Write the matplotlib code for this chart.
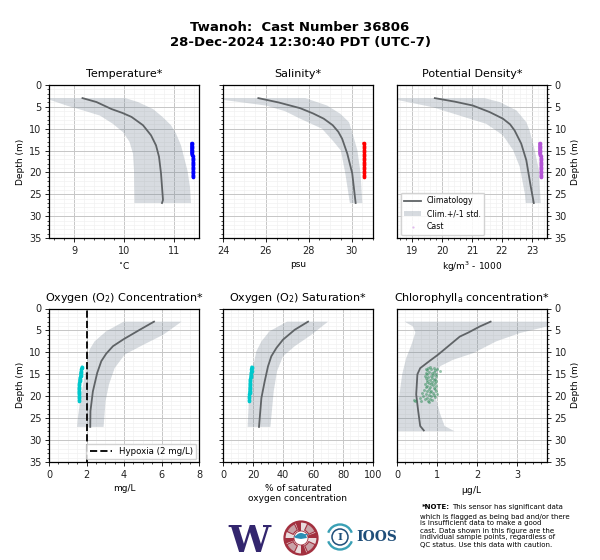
import matplotlib
matplotlib.use("Agg")
import matplotlib.pyplot as plt
from matplotlib.patches import Circle, Wedge, Arc
from matplotlib.ticker import MultipleLocator

CLIM = "#5f6366"
BAND = "#708090"

temp_d = [3, 3.9, 5.5, 6.4, 7.3, 9.2, 11.5, 13.8, 16.4, 20.2, 24.8, 26.3, 27]
temp_m = [9.17, 9.45, 9.75, 9.97, 10.15, 10.38, 10.54, 10.64, 10.7, 10.74, 10.77, 10.78, 10.76]
temp_ld = [3, 3.4, 4.7, 5.8, 7, 8.9, 10.8, 13, 15.7, 19.5, 27]
temp_l = [8.3, 8.52, 8.85, 9.18, 9.52, 9.78, 9.98, 10.11, 10.18, 10.2, 10.21]
temp_hd = [3, 3.9, 5.5, 7.3, 9.2, 11.1, 13.8, 16.5, 19.6, 23.4, 27]
temp_h = [10.03, 10.28, 10.58, 10.77, 10.94, 11.04, 11.14, 11.2, 11.27, 11.32, 11.34]

sal_d = [3, 4, 5.3, 6.5, 7.7, 9.2, 10.7, 12.3, 15.7, 20.2, 27]
sal_m = [25.65, 26.6, 27.6, 28.2, 28.7, 29.12, 29.38, 29.56, 29.8, 30.03, 30.19]
sal_ld = [3, 3.4, 4.7, 6, 7.7, 10, 13, 15, 20, 27]
sal_l = [23.6, 24, 26, 26.9, 27.6, 28.62, 29.17, 29.5, 29.7, 29.92]
sal_hd = [3, 4.7, 6.6, 8.5, 10.8, 14.9, 20.2, 27]
sal_h = [27.84, 28.86, 29.48, 29.88, 30.03, 30.27, 30.42, 30.5]

den_d = [3, 3.8, 4.7, 6.2, 7.7, 9, 10.4, 13.4, 17.2, 23.3, 27]
den_m = [19.76, 20.42, 21.03, 21.59, 22.03, 22.27, 22.42, 22.64, 22.81, 22.96, 23.06]
den_ld = [3, 3.4, 5.1, 7, 8.9, 11.5, 14.9, 18.7, 24.8, 27]
den_l = [18.2, 18.5, 19.7, 20.59, 21.48, 22.03, 22.37, 22.59, 22.76, 22.79]
den_hd = [3, 3.9, 5.8, 8.5, 10.4, 14.9, 19.5, 27]
den_h = [21.42, 21.92, 22.48, 22.81, 22.92, 23.09, 23.23, 23.29]

do_d = [3, 4.85, 7, 8.6, 10.3, 12, 14.7, 18.9, 23.4, 27]
do_m = [5.6, 4.84, 3.98, 3.41, 3.05, 2.79, 2.57, 2.34, 2.21, 2.2]
do_ld = [3, 5.2, 7.5, 9.4, 12, 15.8, 20.4, 24.9, 27]
do_l = [3.98, 3.05, 2.43, 2.16, 2.04, 1.89, 1.68, 1.54, 1.5]
do_hd = [3, 6, 8.3, 10.5, 13.6, 17.3, 21, 27]
do_h = [7.07, 6.09, 5.02, 4.04, 3.5, 3.2, 3.02, 2.91]

sat_d = [3, 4.85, 7.1, 9, 10.9, 13.2, 16.6, 20.4, 27]
sat_m = [56.7, 47.8, 40, 35.6, 32.2, 30, 27.8, 25.6, 24]
sat_ld = [3, 5.2, 7.5, 9.8, 12.8, 16.6, 20.4, 27]
sat_l = [42.7, 31, 25.6, 22.2, 20.4, 18.9, 17.3, 16.4]
sat_hd = [3, 6, 8.6, 10.9, 14.3, 18.9, 27]
sat_h = [70, 58.9, 47.8, 40, 36, 33.8, 31.6]

chl_d = [3, 4.1, 5.5, 6.4, 8.3, 10.5, 12.2, 13.6, 15, 19.6, 23.4, 26.8, 27.8]
chl_m = [2.34, 2.07, 1.78, 1.57, 1.32, 1.03, 0.78, 0.58, 0.51, 0.48, 0.53, 0.58, 0.67]
chl_ld = [3, 4.1, 5.5, 8.3, 11.3, 15, 20.4, 25, 28]
chl_l = [0.19, 0.4, 0.46, 0.36, 0.23, 0.13, 0.05, 0.0, 0.0]
chl_hd = [3, 4.1, 5.6, 7.5, 10.2, 11.7, 13.2, 15, 20.4, 23.8, 26.8, 28]
chl_h = [4.6, 3.75, 3.07, 2.48, 1.9, 1.4, 1.07, 1.0, 0.97, 1.07, 1.19, 1.44]

cast_d = [13.3, 13.6, 13.9, 14.2, 14.5, 14.8, 15.1, 15.4, 15.7, 16.0, 16.3, 16.6, 16.9, 17.2,
          17.5, 17.8, 18.1, 18.4, 18.7, 19.0, 19.3, 19.6, 19.9, 20.2, 20.5, 20.8, 21.1]
cast_t = [11.35, 11.35, 11.35, 11.35, 11.35, 11.35, 11.35, 11.35, 11.35, 11.36, 11.38, 11.38, 11.38, 11.38,
          11.38, 11.38, 11.38, 11.38, 11.38, 11.38, 11.38, 11.38, 11.38, 11.38, 11.38, 11.38, 11.38]
cast_s = [30.56, 30.58, 30.6, 30.6, 30.6, 30.6, 30.6, 30.6, 30.6, 30.6, 30.6, 30.6, 30.6, 30.6,
          30.6, 30.6, 30.6, 30.6, 30.6, 30.6, 30.6, 30.6, 30.6, 30.6, 30.6, 30.6, 30.6]
cast_r = [23.25, 23.25, 23.25, 23.25, 23.25, 23.25, 23.25, 23.25, 23.25, 23.27, 23.3, 23.3, 23.3, 23.3,
          23.3, 23.3, 23.3, 23.3, 23.3, 23.3, 23.3, 23.3, 23.3, 23.3, 23.3, 23.3, 23.3]
cast_o = [1.76, 1.74, 1.72, 1.72, 1.7, 1.68, 1.68, 1.68, 1.66, 1.64, 1.63, 1.63, 1.62, 1.62,
          1.61, 1.61, 1.6, 1.6, 1.6, 1.6, 1.6, 1.61, 1.61, 1.61, 1.61, 1.61, 1.61]
cast_p = [19.1, 19.0, 18.9, 19.0, 18.9, 18.7, 18.6, 18.5, 18.4, 18.2, 18.1, 18.1, 18.0, 18.0,
          18.0, 17.9, 17.9, 17.8, 17.8, 17.7, 17.7, 17.6, 17.6, 17.5, 17.5, 17.5, 17.5]

chl_cast_d = [13.4, 13.5, 13.6, 13.7, 13.8, 13.9, 14.0, 14.1, 14.2, 14.4, 14.5, 14.6, 14.8, 14.9,
              15.0, 15.1, 15.3, 15.4, 15.5, 15.7, 15.8, 15.9, 16.0, 16.2, 16.3, 16.4, 16.5, 16.7,
              16.8, 17.0, 17.1, 17.2, 17.3, 17.5, 17.6, 17.7, 17.9, 18.0, 18.1, 18.3, 18.4, 18.5,
              18.7, 18.8, 18.9, 19.0, 19.2, 19.3, 19.4, 19.5, 19.7, 19.8, 19.9, 20.0, 20.2, 20.3,
              20.4, 20.6, 20.7, 20.8, 20.9, 21.0, 21.1, 21.2, 21.3]
chl_cast_v = [0.82, 0.92, 0.78, 1.0, 0.72, 0.86, 0.95, 0.76, 1.08, 0.8, 0.93, 0.72, 0.87, 0.98,
              0.76, 0.9, 0.7, 0.84, 0.97, 0.78, 0.88, 0.72, 0.95, 0.83, 0.76, 0.92, 0.97, 0.74,
              0.87, 0.8, 0.95, 0.7, 0.86, 0.9, 0.76, 0.98, 0.83, 0.72, 0.92, 0.8, 0.95, 0.68,
              0.86, 0.75, 0.97, 0.82, 0.62, 0.9, 0.72, 1.0, 0.8, 0.92, 0.66, 0.85, 0.94, 0.76,
              0.58, 0.82, 0.7, 0.88, 0.42, 0.6, 0.77, 0.44, 0.8]

titles = ["Temperature*", "Salinity*", "Potential Density*",
          "Oxygen (O$_2$) Concentration*", "Oxygen (O$_2$) Saturation*",
          "Chlorophyll$_a$ concentration*"]
xlabels = ["$^{\\circ}$C", "psu", "kg/m$^3$ - 1000", "mg/L",
           "% of saturated\noxygen concentration", "$\\mu$g/L"]

W, H = 600, 560
plt.rcParams["mathtext.default"] = "regular"
fig = plt.figure(figsize=(6, 5.6), dpi=100)


def make_ax(x0, x1, y0, y1):
    return fig.add_axes([x0 / W, 1 - y1 / H, (x1 - x0) / W, (y1 - y0) / H])


def style(ax, xlim, xmajor, xminor, title, xlabel, left=True, right=False):
    ax.set_xlim(*xlim)
    ax.set_ylim(35, 0)
    ax.xaxis.set_major_locator(MultipleLocator(xmajor))
    ax.xaxis.set_minor_locator(MultipleLocator(xminor))
    ax.yaxis.set_major_locator(MultipleLocator(5))
    ax.yaxis.set_minor_locator(MultipleLocator(1))
    ax.grid(which="major", color="#c6c6c6", lw=0.7)
    ax.grid(which="minor", color="#f2f2f2", lw=0.5)
    ax.set_axisbelow(True)
    ax.tick_params(which="major", labelsize=7, length=3, width=0.7, pad=2.5, colors="#222222")
    ax.tick_params(which="minor", length=1.5, width=0.5)
    ax.set_title(title, fontsize=8, pad=5.5)
    ax.set_xlabel(xlabel, fontsize=6.5, labelpad=3)
    for s in ax.spines.values():
        s.set_linewidth(0.9)
    if right:
        ax.yaxis.tick_right()
        ax.yaxis.set_label_position("right")
    if left or right:
        ax.set_ylabel("Depth (m)", fontsize=6.5, labelpad=2.5)
    else:
        ax.tick_params(axis="y", which="both", labelleft=False)


def profile(ax, d, m, ld, l, hd, h):
    ax.fill(h + l[::-1], hd + ld[::-1], color=BAND, alpha=0.28, lw=0, label="Clim.+/-1 std.")
    ax.plot(m, d, color=CLIM, lw=1.3, label="Climatology", solid_joinstyle="round")


def cast(ax, x, d, color):
    ax.plot(x, d, ls="none", marker="o", ms=2.6, mew=0, color=color, zorder=3, snap=False)
    ax.plot(x, d, color=color, lw=1.9, zorder=3, solid_capstyle="round", snap=False)


rows = [(85, 238), (308.5, 462)]
cols = [(49, 199), (223, 373), (397, 547)]

ax1 = make_ax(*cols[0], *rows[0])
profile(ax1, temp_d, temp_m, temp_ld, temp_l, temp_hd, temp_h)
cast(ax1, cast_t, cast_d, "#0000ff")
style(ax1, (8.5, 11.5), 1, 0.2, titles[0], xlabels[0])

ax2 = make_ax(*cols[1], *rows[0])
profile(ax2, sal_d, sal_m, sal_ld, sal_l, sal_hd, sal_h)
cast(ax2, cast_s, cast_d, "#ff0000")
style(ax2, (24, 31), 2, 0.5, titles[1], xlabels[1], left=False)

ax3 = make_ax(*cols[2], *rows[0])
profile(ax3, den_d, den_m, den_ld, den_l, den_hd, den_h)
cast(ax3, cast_r, cast_d, "#b455d6")
cast_handle = ax3.scatter([], [], s=5, color="#b455d6", alpha=0.4, lw=0, label="Cast")
style(ax3, (18.5, 23.5), 1, 0.2, titles[2], xlabels[2], left=False, right=True)
h, l = ax3.get_legend_handles_labels()
order = [l.index("Climatology"), l.index("Clim.+/-1 std."), l.index("Cast")]
leg = ax3.legend([h[i] for i in order], [l[i] for i in order], fontsize=5.6,
                 loc="lower left", borderaxespad=0.45, labelspacing=0.5,
                 markerscale=0.7, fancybox=True, framealpha=0.85, handlelength=2.2,
                 handletextpad=0.7, borderpad=0.45)

ax4 = make_ax(*cols[0], *rows[1])
profile(ax4, do_d, do_m, do_ld, do_l, do_hd, do_h)
cast(ax4, cast_o, cast_d, "#00c8cc")
hyp = ax4.axvline(2, color="#111111", ls="--", lw=1.4, zorder=4, label="Hypoxia (2 mg/L)")
style(ax4, (0, 8), 2, 0.5, titles[3], xlabels[3])
ax4.legend(handles=[hyp], fontsize=6.2, loc="lower right", borderaxespad=0.3,
           framealpha=0.85, handlelength=2.6)

ax5 = make_ax(*cols[1], *rows[1])
profile(ax5, sat_d, sat_m, sat_ld, sat_l, sat_hd, sat_h)
cast(ax5, cast_p, cast_d, "#00c8cc")
style(ax5, (0, 100), 20, 5, titles[4], xlabels[4], left=False)

ax6 = make_ax(*cols[2], *rows[1])
profile(ax6, chl_d, chl_m, chl_ld, chl_l, chl_hd, chl_h)
ax6.scatter(chl_cast_v, chl_cast_d, s=4.5, color="#2e8b57", alpha=0.5, lw=0, zorder=3)
style(ax6, (0, 3.75), 1, 0.2, titles[5], xlabels[5], left=False, right=True)

fig.text(0.5, 1 - 35 / H, "Twanoh:  Cast Number 36806\n28-Dec-2024 12:30:40 PDT (UTC-7)",
         ha="center", va="center", fontsize=9.5, fontweight="bold", linespacing=1.2)

# logos
la = fig.add_axes([0, 0, 1, 1], facecolor="none")
la.set_xlim(0, W)
la.set_ylim(H, 0)
la.axis("off")
la.text(249, 552, "W", family="DejaVu Serif", fontweight="bold", fontsize=27,
        color="#33266e", ha="center", va="baseline")
RED = "#a3303f"
NAVY = "#1f4e79"
TEAL = "#3aa0b5"
la.add_patch(Circle((301, 538), 16.5, fc="#e9dcdd", ec=RED, lw=1.6))
for a in (25, 115, 205, 295):
    la.add_patch(Wedge((301, 538), 15.5, a, a + 40, width=7, fc="#c9a3a8", ec=RED, lw=0.8))
for a in (70, 160, 250, 340):
    la.add_patch(Wedge((301, 538), 16, a, a + 20, width=9, fc=RED, lw=0))
la.add_patch(Circle((301, 538), 7, fc="white", ec=RED, lw=0.6))
la.add_patch(Wedge((301, 539), 6, 190, 350, fc="#2a8fb5", lw=0))
la.plot([295, 307], [536.5, 534.5], color="#2a8fb5", lw=1)
la.add_patch(Arc((340, 537), 25, 25, theta1=20, theta2=160, color=TEAL, lw=1.7))
la.add_patch(Arc((340, 537), 25, 25, theta1=200, theta2=340, color=TEAL, lw=1.7))
la.add_patch(Circle((340, 537), 8, fc="none", ec=NAVY, lw=1.1))
la.text(340, 537, "I", family="DejaVu Serif", fontweight="bold", fontsize=7.5,
        color=NAVY, ha="center", va="center")
la.text(376.5, 537, "IOOS", family="DejaVu Serif", fontweight="bold", fontsize=10,
        color=NAVY, ha="center", va="center")

# note
la.text(421.5, 507, "*NOTE:", fontsize=5, fontweight="bold", va="center")
la.text(452, 507, "This sensor has significant data", fontsize=5, va="center")
note_y = [517, 523, 531, 537, 545]
note_lines = ["which is flagged as being bad and/or there",
              "is insufficient data to make a good",
              "cast. Data shown in this figure are the",
              "individual sample points, regardless of",
              "QC status. Use this data with caution."]
for y, t in zip(note_y, note_lines):
    la.text(420, y, t, fontsize=5, va="center")

fig.savefig("out.png", dpi=100)
